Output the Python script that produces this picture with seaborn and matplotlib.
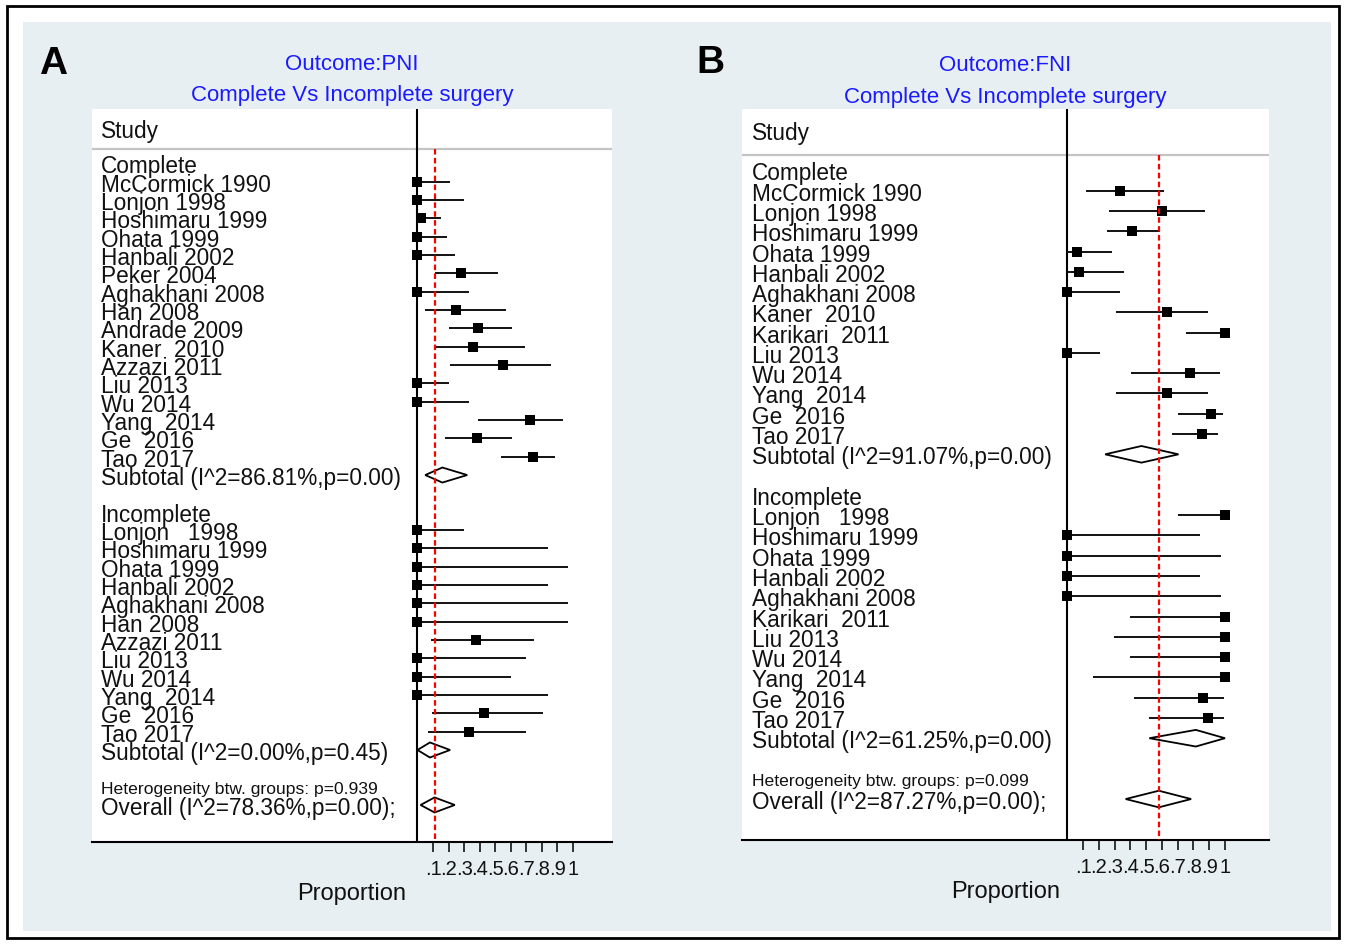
import numpy as np
import pandas as pd
import matplotlib
matplotlib.use('Agg')
import matplotlib.pyplot as plt
import matplotlib.transforms as mtransforms
import seaborn as sns
from matplotlib.patches import Polygon, Rectangle

# ---- Panel A: Outcome PNI ----
pni_comp_names = ['McCormick 1990', 'Lonjon 1998', 'Hoshimaru 1999', 'Ohata 1999', 'Hanbali 2002',
                  'Peker 2004', 'Aghakhani 2008', 'Han 2008', 'Andrade 2009', 'Kaner  2010',
                  'Azzazi 2011', 'Liu 2013', 'Wu 2014', 'Yang  2014', 'Ge  2016', 'Tao 2017']
pni_comp_est = [0, 0, 0.02, 0, 0, 0.28, 0, 0.245, 0.39, 0.36, 0.55, 0, 0, 0.725, 0.38, 0.74]
pni_comp_lo = [0, 0, 0, 0, 0, 0.11, 0, 0.05, 0.20, 0.11, 0.21, 0, 0, 0.39, 0.18, 0.54]
pni_comp_hi = [0.21, 0.30, 0.15, 0.19, 0.24, 0.52, 0.33, 0.57, 0.61, 0.69, 0.86, 0.20, 0.33, 0.935, 0.61, 0.885]
pni_comp_sub = (0.05, 0.16, 0.32)
pni_comp_sub_label = 'Subtotal (I^2=86.81%,p=0.00)'

pni_inc_names = ['Lonjon   1998', 'Hoshimaru 1999', 'Ohata 1999', 'Hanbali 2002', 'Aghakhani 2008',
                 'Han 2008', 'Azzazi 2011', 'Liu 2013', 'Wu 2014', 'Yang  2014', 'Ge  2016', 'Tao 2017']
pni_inc_est = [0, 0, 0, 0, 0, 0, 0.375, 0, 0, 0, 0.43, 0.33]
pni_inc_lo = [0, 0, 0, 0, 0, 0, 0.085, 0, 0, 0, 0.095, 0.07]
pni_inc_hi = [0.30, 0.84, 0.97, 0.84, 0.97, 0.97, 0.75, 0.70, 0.60, 0.84, 0.81, 0.70]
pni_inc_sub = (0.0, 0.08, 0.21)
pni_inc_sub_label = 'Subtotal (I^2=0.00%,p=0.45)'

pni_het_label = 'Heterogeneity btw. groups: p=0.939'
pni_overall = (0.02, 0.11, 0.24)
pni_overall_label = 'Overall (I^2=78.36%,p=0.00);'

# ---- Panel B: Outcome FNI ----
fni_comp_names = ['McCormick 1990', 'Lonjon 1998', 'Hoshimaru 1999', 'Ohata 1999', 'Hanbali 2002',
                  'Aghakhani 2008', 'Kaner  2010', 'Karikari  2011', 'Liu 2013', 'Wu 2014',
                  'Yang  2014', 'Ge  2016', 'Tao 2017']
fni_comp_est = [0.335, 0.60, 0.41, 0.06, 0.075, 0, 0.635, 1.0, 0, 0.78, 0.635, 0.91, 0.855]
fni_comp_lo = [0.12, 0.265, 0.25, 0, 0, 0, 0.31, 0.755, 0, 0.405, 0.31, 0.70, 0.665]
fni_comp_hi = [0.615, 0.875, 0.59, 0.285, 0.36, 0.335, 0.89, 1.0, 0.205, 0.97, 0.89, 0.99, 0.955]
fni_comp_sub = (0.24, 0.47, 0.705)
fni_comp_sub_label = 'Subtotal (I^2=91.07%,p=0.00)'

fni_inc_names = ['Lonjon   1998', 'Hoshimaru 1999', 'Ohata 1999', 'Hanbali 2002', 'Aghakhani 2008',
                 'Karikari  2011', 'Liu 2013', 'Wu 2014', 'Yang  2014', 'Ge  2016', 'Tao 2017']
fni_inc_est = [1.0, 0, 0, 0, 0, 1.0, 1.0, 1.0, 1.0, 0.86, 0.89]
fni_inc_lo = [0.70, 0, 0, 0, 0, 0.40, 0.295, 0.40, 0.16, 0.425, 0.52]
fni_inc_hi = [1.0, 0.84, 0.975, 0.84, 0.975, 1.0, 1.0, 1.0, 1.0, 0.995, 0.995]
fni_inc_sub = (0.52, 0.815, 1.0)
fni_inc_sub_label = 'Subtotal (I^2=61.25%,p=0.00)'

fni_het_label = 'Heterogeneity btw. groups: p=0.099'
fni_overall = (0.37, 0.58, 0.785)
fni_overall_label = 'Overall (I^2=87.27%,p=0.00);'

tick_vals = [0.1, 0.2, 0.3, 0.4, 0.5, 0.6, 0.7, 0.8, 0.9, 1.0]
tick_labels = ['.1', '.2', '.3', '.4', '.5', '.6', '.7', '.8', '.9', '1']

sns.set_style('white')
plt.rcParams['font.family'] = ['Liberation Sans', 'DejaVu Sans']

W, H = 1346, 945
BLUE = '#1a1aff'
TXT = '#111111'
FS = 16.3


def fx(x):
    return x / W


def fy(y):
    return 1 - y / H


def diamond(ax, lo, est, hi, row, h=0.41):
    ax.add_patch(Polygon([(lo, row), (est, row - h), (hi, row), (est, row + h)], closed=True,
                         facecolor='white', edgecolor='black', lw=1.3, zorder=3))


def draw_panel(ax, comp, inc, het_label, overall, overall_label, xlim, ylim, header_row, study_row, text_x):
    # rows: group header, studies, subtotal, blank, ...
    labels = [('Complete', 0)]
    studies = []
    r = 1
    for n, e, l, h_ in zip(*comp[:4]):
        labels.append((n, r))
        studies.append((r, e, l, h_))
        r += 1
    comp_sub_row = r
    labels.append((comp[5], r))
    r += 2
    labels.append(('Incomplete', r))
    r += 1
    for n, e, l, h_ in zip(*inc[:4]):
        labels.append((n, r))
        studies.append((r, e, l, h_))
        r += 1
    inc_sub_row = r
    labels.append((inc[5], r))
    het_row = r + 2
    overall_row = r + 3

    df = pd.DataFrame(studies, columns=['row', 'est', 'lo', 'hi'])

    ax.set_facecolor('white')
    ax.axvline(0, color='black', lw=1.5, zorder=2)
    ax.axhline(header_row, color='#c4c4c4', lw=1.6, zorder=1)
    ax.hlines(df['row'], df['lo'], df['hi'], color='#111111', lw=1.4, zorder=3)
    sns.scatterplot(data=df, x='est', y='row', marker='s', s=42, color='black',
                    linewidth=0, ax=ax, zorder=5, legend=False)
    diamond(ax, *comp[4], comp_sub_row)
    diamond(ax, *inc[4], inc_sub_row)
    diamond(ax, *overall, overall_row)
    ax.vlines(overall[1], header_row, ylim[0], color='red', lw=1.6,
              linestyles=(0, (2.5, 1.5)), zorder=6)

    bt = mtransforms.blended_transform_factory(ax.transAxes, ax.transData)
    for t, rr in labels:
        ax.text(text_x, rr, t, transform=bt, fontsize=FS, color=TXT, va='center_baseline', ha='left')
    ax.text(text_x, het_row, het_label, transform=bt, fontsize=12.6, color=TXT,
            va='center_baseline', ha='left')
    ax.text(text_x, overall_row, overall_label, transform=bt, fontsize=FS, color=TXT,
            va='center_baseline', ha='left')
    ax.text(text_x, study_row, 'Study', transform=bt, fontsize=FS, color=TXT,
            va='center_baseline', ha='left')

    ax.set_xlim(*xlim)
    ax.set_ylim(*ylim)
    ax.set_xticks(tick_vals)
    ax.set_xticklabels(tick_labels, fontsize=14.5, color=TXT)
    ax.set_yticks([])
    ax.tick_params(axis='x', direction='out', length=7, width=1.1, pad=5.5, bottom=True, color='black')
    for s in ['top', 'left', 'right']:
        ax.spines[s].set_visible(False)
    ax.spines['bottom'].set_color('black')
    ax.spines['bottom'].set_linewidth(1.5)
    ax.set_ylabel('')
    ax.set_xlabel('Proportion', fontsize=17, color=TXT, labelpad=2.5)


fig = plt.figure(figsize=(W / 100, H / 100), dpi=100)
fig.patch.set_facecolor('white')
fig.patches.append(Rectangle((fx(23), fy(932)), fx(1331 - 23), (932 - 23) / H, transform=fig.transFigure,
                             facecolor='#e8eff2', edgecolor='none', zorder=-10))
fig.patches.append(Rectangle((fx(7), fy(939)), fx(1339 - 7), (939 - 7) / H, transform=fig.transFigure,
                             facecolor='none', edgecolor='black', lw=2, zorder=-9))

axA = fig.add_axes([fx(92), fy(843), fx(612 - 92), (843 - 110) / H])
axB = fig.add_axes([fx(742), fy(841), fx(1269 - 742), (841 - 110) / H])

draw_panel(axA,
           (pni_comp_names, pni_comp_est, pni_comp_lo, pni_comp_hi, pni_comp_sub, pni_comp_sub_label),
           (pni_inc_names, pni_inc_est, pni_inc_lo, pni_inc_hi, pni_inc_sub, pni_inc_sub_label),
           pni_het_label, pni_overall, pni_overall_label,
           xlim=(-2.093, 1.251), ylim=(37.02, -2.97), header_row=-0.79, study_row=-1.93,
           text_x=0.0173)
draw_panel(axB,
           (fni_comp_names, fni_comp_est, fni_comp_lo, fni_comp_hi, fni_comp_sub, fni_comp_sub_label),
           (fni_inc_names, fni_inc_est, fni_inc_lo, fni_inc_hi, fni_inc_sub, fni_inc_sub_label),
           fni_het_label, fni_overall, fni_overall_label,
           xlim=(-2.063, 1.279), ylim=(33.02, -3.03), header_row=-0.78, study_row=-1.99,
           text_x=0.019)

# titles and panel letters
fig.text(fx(352), fy(62), 'Outcome:PNI', color=BLUE, fontsize=16, ha='center', va='center_baseline')
fig.text(fx(352), fy(93), 'Complete Vs Incomplete surgery', color=BLUE, fontsize=16,
         ha='center', va='center_baseline')
fig.text(fx(1005.5), fy(63), 'Outcome:FNI', color=BLUE, fontsize=16, ha='center', va='center_baseline')
fig.text(fx(1005.5), fy(95), 'Complete Vs Incomplete surgery', color=BLUE, fontsize=16,
         ha='center', va='center_baseline')
fig.text(fx(39), fy(74), 'A', fontsize=28, fontweight='bold', color='black', ha='left', va='baseline')
fig.text(fx(696), fy(73), 'B', fontsize=28, fontweight='bold', color='black', ha='left', va='baseline')

fig.savefig('out.png', dpi=100, facecolor='white')
